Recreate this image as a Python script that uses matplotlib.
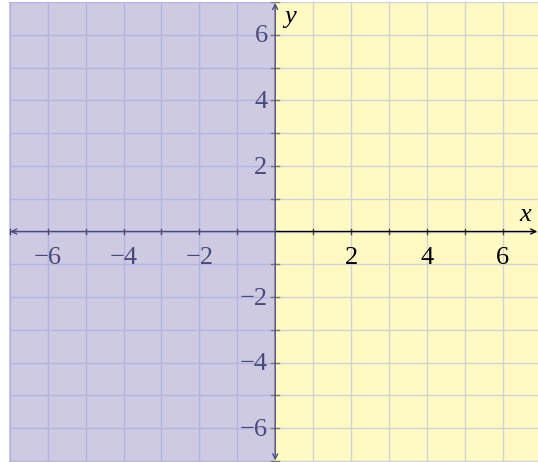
import matplotlib.pyplot as plt
import numpy as np

# region split at x = 0: x < 0 shaded purple, x > 0 shaded yellow
boundary = 0
x_ticks = [-6, -4, -2, 2, 4, 6]
y_ticks = [-6, -4, -2, 2, 4, 6]
grid_vals = list(range(-7, 8))

xmin, xmax = -7.02, 6.93
ymin, ymax = -7.03, 7.0

purple = '#cdcae2'
yellow = '#fff9c4'
grid_left = '#b4b4e4'
grid_right = '#d2d2d2'
dark = '#4a4a78'

fig = plt.figure(figsize=(5.38, 4.62), dpi=100)
ax = fig.add_axes([9/538, 0, 529/538, 460/462])
ax.set_xlim(xmin, xmax)
ax.set_ylim(ymin, ymax)
ax.axis('off')

ax.axvspan(xmin, boundary, color=purple, lw=0, zorder=0)
ax.axvspan(boundary, xmax, color=yellow, lw=0, zorder=0)

# grid
for g in grid_vals:
    if g < 0:
        ax.axvline(g, color=grid_left, lw=1, zorder=1)
    elif g > 0:
        ax.axvline(g, color=grid_right, lw=1, zorder=1)
    ax.hlines(g, xmin, boundary, color=grid_left, lw=1, zorder=1)
    ax.hlines(g, boundary, xmax, color=grid_right, lw=1, zorder=1)

# axes with arrows
ax.annotate('', xy=(xmax - 0.02, 0), xytext=(0, 0),
            arrowprops=dict(arrowstyle='->', color='black', lw=1, shrinkA=0, shrinkB=0,
                            mutation_scale=9), zorder=3)
ax.annotate('', xy=(xmin + 0.03, 0), xytext=(0, 0),
            arrowprops=dict(arrowstyle='->', color=dark, lw=1, shrinkA=0, shrinkB=0,
                            mutation_scale=9), zorder=3)
ax.annotate('', xy=(0, ymax - 0.03), xytext=(0, 0),
            arrowprops=dict(arrowstyle='->', color=dark, lw=1, shrinkA=0, shrinkB=0,
                            mutation_scale=9), zorder=3)
ax.annotate('', xy=(0, ymin + 0.05), xytext=(0, 0),
            arrowprops=dict(arrowstyle='->', color=dark, lw=1, shrinkA=0, shrinkB=0,
                            mutation_scale=9), zorder=3)

# small tick marks
for g in grid_vals:
    if g == 0:
        continue
    c = dark if g < 0 else '#444444'
    ax.plot([g, g], [-0.08, 0.08], color=c, lw=1, zorder=2)
    ax.plot([-0.1, 0.1], [g, g], color='#777777', lw=1, zorder=2)

font = dict(family=['Liberation Serif', 'DejaVu Serif'], size=19)
for t in x_ticks:
    c = dark if t < 0 else 'black'
    ax.text(t, -0.8, str(t).replace('-', '\u2212'), ha='center', va='center',
            color=c, zorder=4, **font)
for t in y_ticks:
    ax.text(-0.2, t - 0.05, str(t).replace('-', '\u2212'), ha='right', va='center',
            color=dark, zorder=4, **font)

ax.text(6.6, 0.5, 'x', ha='center', va='center', style='italic', zorder=4, **font)
ax.text(0.38, 6.55, 'y', ha='center', va='center', style='italic', zorder=4, **font)

fig.savefig('out.png', dpi=100)
